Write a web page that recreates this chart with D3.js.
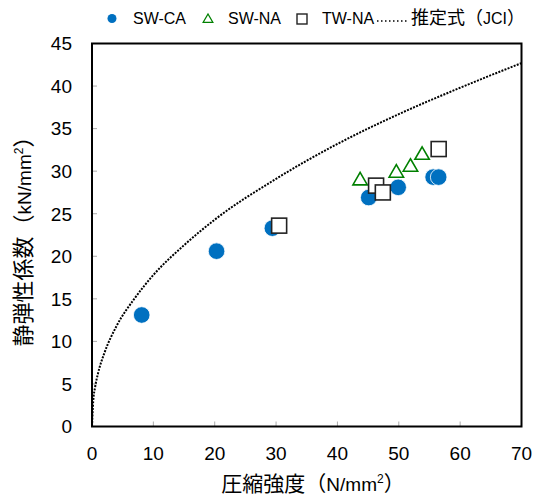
<!DOCTYPE html>
<html>
<head>
<meta charset="utf-8">
<script src="https://cdn.jsdelivr.net/npm/d3@7"></script>
<style>
  body { margin: 0; background: #fff; }
  text { font-family: "Liberation Sans", Arial, "Noto Sans CJK JP", sans-serif; }
</style>
</head>
<body>
<div id="chart-area"></div>
<script>
// Data
const swcaX = [8.1, 20.3, 29.4, 45.1, 49.9, 55.6, 56.5];
const swcaY = [13.1, 20.6, 23.3, 26.9, 28.1, 29.3, 29.3];
const swnaX = [43.7, 49.6, 51.9, 53.8];
const swnaY = [29.0, 29.9, 30.6, 32.0];
const twnaX = [30.5, 46.3, 47.4, 56.5];
const twnaY = [23.6, 28.3, 27.5, 32.6];
const jciX = [0, 0.2, 0.5, 1, 2, 4, 7, 10, 15, 20, 30, 40, 50, 60, 70];
const jciY = [0, 3.0, 4.6, 6.3, 8.6, 11.8, 15.1, 17.8, 21.3, 24.3, 29.1, 33.2, 36.7, 39.8, 42.7];
const xTicks = [0, 10, 20, 30, 40, 50, 60, 70];
const yTicks = [0, 5, 10, 15, 20, 25, 30, 35, 40, 45];
const legendLabels = ["SW-CA", "SW-NA", "TW-NA"];

const width = 536, height = 497;
const margin = {top: 43.5, right: 14.5, bottom: 70.5, left: 92};

const x = d3.scaleLinear().domain([0, 70]).range([margin.left, width - margin.right]);
const y = d3.scaleLinear().domain([0, 45]).range([height - margin.bottom, margin.top]);

const svg = d3.select("#chart-area").append("svg")
    .attr("width", width)
    .attr("height", height);

// tick marks (inside)
svg.append("g")
    .selectAll("line")
    .data(xTicks.slice(1, -1))
    .enter().append("line")
    .attr("x1", d => x(d)).attr("x2", d => x(d))
    .attr("y1", y(0)).attr("y2", y(0) - 5)
    .attr("stroke", "#aaa");

svg.append("g")
    .selectAll("line")
    .data(yTicks.slice(1, -1))
    .enter().append("line")
    .attr("x1", x(0)).attr("x2", x(0) + 5)
    .attr("y1", d => y(d)).attr("y2", d => y(d))
    .attr("stroke", "#aaa");

// tick labels
svg.append("g")
    .selectAll("text")
    .data(xTicks)
    .enter().append("text")
    .attr("x", d => x(d))
    .attr("y", 460)
    .attr("text-anchor", "middle")
    .style("font-size", "19px")
    .text(d => d);

svg.append("g")
    .selectAll("text")
    .data(yTicks)
    .enter().append("text")
    .attr("x", 72)
    .attr("y", d => y(d))
    .attr("dy", "0.36em")
    .attr("text-anchor", "end")
    .style("font-size", "19px")
    .text(d => d);

// axis titles: CJK part a bit larger, like the original
function title(sel, jp, unit, jpSize) {
    sel.append("tspan").style("font-size", jpSize).text(jp + "（");
    sel.append("tspan").text(unit);
    sel.append("tspan").attr("dy", -8).style("font-size", "12px").text("2");
    sel.append("tspan").attr("dy", 8).style("font-size", jpSize).text("）");
}

const xTitle = svg.append("text")
    .attr("x", 313)
    .attr("y", 491)
    .attr("text-anchor", "middle")
    .style("font-size", "19px");
title(xTitle, "圧縮強度", "N/mm", "21px");

const yTitle = svg.append("text")
    .attr("transform", "translate(31,236) rotate(-90)")
    .attr("text-anchor", "middle")
    .style("font-size", "19px");
title(yTitle, "静弾性係数", "kN/mm", "22px");

// JCI curve
const line = d3.line()
    .x((d, i) => x(jciX[i]))
    .y(d => y(d))
    .curve(d3.curveMonotoneX);

svg.append("path")
    .attr("d", line(jciY))
    .attr("fill", "none")
    .attr("stroke", "#000")
    .attr("stroke-width", 2)
    .attr("stroke-dasharray", "2,1.3");

// markers
const tri = d3.symbol().type(d3.symbolTriangle).size(90);

svg.append("g")
    .selectAll("circle")
    .data(swcaX)
    .enter().append("circle")
    .attr("cx", d => x(d))
    .attr("cy", (d, i) => y(swcaY[i]))
    .attr("r", 8.3)
    .attr("fill", "#0070C0")
    .attr("stroke", "#fff")
    .attr("stroke-width", 0.8);

svg.append("g")
    .selectAll("path")
    .data(swnaX)
    .enter().append("path")
    .attr("d", tri)
    .attr("transform", (d, i) => `translate(${x(d)},${y(swnaY[i]) + 1})`)
    .attr("fill", "#fff")
    .attr("stroke", "#008000")
    .attr("stroke-width", 1.6);

svg.append("g")
    .selectAll("rect")
    .data(twnaX)
    .enter().append("rect")
    .attr("x", d => x(d) - 7.5)
    .attr("y", (d, i) => y(twnaY[i]) - 7.5)
    .attr("width", 15)
    .attr("height", 15)
    .attr("fill", "#fff")
    .attr("stroke", "#222")
    .attr("stroke-width", 1.6);

// frame
svg.append("rect")
    .attr("x", x(0))
    .attr("y", y(45))
    .attr("width", x(70) - x(0))
    .attr("height", y(0) - y(45))
    .attr("fill", "none")
    .attr("stroke", "#000")
    .attr("stroke-width", 2);

// legend
const lg = svg.append("g").style("font-size", "16px");
lg.append("circle").attr("cx", 112).attr("cy", 18.5).attr("r", 4.5).attr("fill", "#0070C0");
lg.append("text").attr("x", 133).attr("y", 24).text(legendLabels[0]);
lg.append("path")
    .attr("d", d3.symbol().type(d3.symbolTriangle).size(40))
    .attr("transform", "translate(208,19.5)")
    .attr("fill", "#fff").attr("stroke", "#008000").attr("stroke-width", 1.3);
lg.append("text").attr("x", 228).attr("y", 24).text(legendLabels[1]);
lg.append("rect").attr("x", 297).attr("y", 14).attr("width", 10).attr("height", 10)
    .attr("fill", "#fff").attr("stroke", "#222").attr("stroke-width", 1.4);
lg.append("text").attr("x", 322).attr("y", 24).text(legendLabels[2]);
lg.append("line").attr("x1", 377).attr("x2", 408).attr("y1", 21).attr("y2", 21)
    .attr("stroke", "#000").attr("stroke-width", 1.5).attr("stroke-dasharray", "1.5,2.5");
const lt = lg.append("text").attr("x", 411).attr("y", 24);
lt.append("tspan").style("font-size", "18px").text("推定式（");
lt.append("tspan").text("JCI");
lt.append("tspan").style("font-size", "18px").text("）");
</script>
</body>
</html>
